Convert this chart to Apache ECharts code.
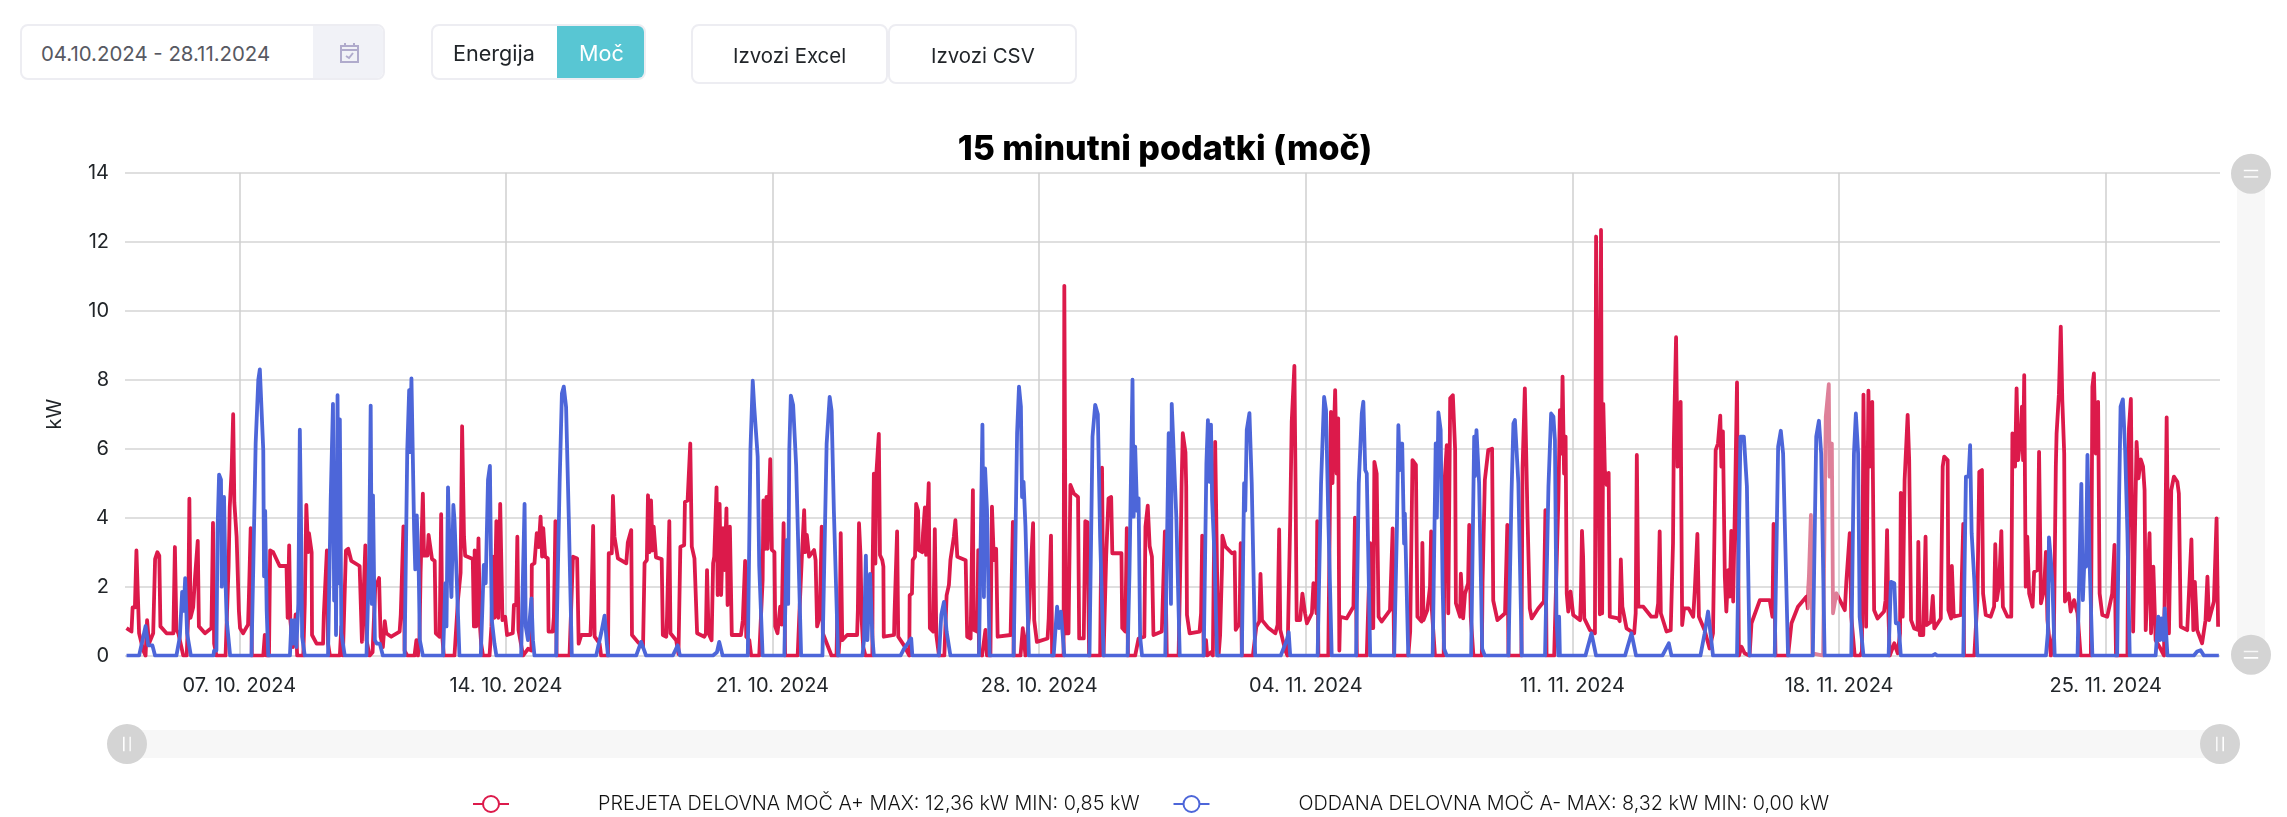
<!DOCTYPE html>
<html>
<head>
<meta charset="utf-8">
<title>15 minutni podatki (moč)</title>
<script src="https://cdn.jsdelivr.net/npm/echarts@6/dist/echarts.min.js"></script>
<style>
    body{margin:0;background:#fff;font-family:Inter,"Open Sans",sans-serif;}
    #graf{position:absolute;left:0;top:0;width:2287px;height:817px;}
    .box{position:absolute;box-sizing:border-box;border:2px solid #ededf2;border-radius:8px;background:#fff;}
    .txt{position:absolute;white-space:nowrap;font-size:20.4px;color:#212529;transform:translateY(-50%);}
</style>
</head>
<body>
<div id="graf"></div>

<div class="box" style="left:20px;top:24px;width:365px;height:56px;overflow:hidden;">
    <div style="position:absolute;right:0;top:0;width:70px;height:100%;background:#f1f2f7;"></div>
</div>
<div class="txt" style="left:41px;top:53px;color:#575962;">04.10.2024 - 28.11.2024</div>
<svg style="position:absolute;left:340px;top:43px;" width="19" height="20" viewBox="0 0 19 20" fill="none" stroke="#b0abcc" stroke-width="2">
    <rect x="1" y="3" width="17" height="16"></rect>
    <path d="M1 7H18M5 0V4M14 0V4M6 13L9 15L13 10"></path>
</svg>

<div class="box" style="left:431px;top:24px;width:215px;height:56px;overflow:hidden;">
    <div style="position:absolute;left:124px;top:-2px;width:91px;height:56px;background:#58c6d3;"></div>
</div>
<div class="txt" style="left:453px;top:53px;font-size:21.6px;">Energija</div>
<div class="txt" style="left:579px;top:53px;color:#fff;font-size:21.6px;">Moč</div>

<div class="box" style="left:691px;top:24px;width:197px;height:60px;"></div>
<div class="box" style="left:888px;top:24px;width:189px;height:60px;"></div>
<div class="txt" style="left:733px;top:55px;">Izvozi Excel</div>
<div class="txt" style="left:931px;top:55px;">Izvozi CSV</div>

<script>
// x = dnevi od 04.10.2024 00:00, y = kW
var prejeta = [
[.04,.8],[.17,.7],[.2,1.4],[.26,1.4],[.3,3.05],[.33,3.05],[.37,.65],[.48,.15],[.54,0],[.58,1.03],[.63,.35],[.74,.65],[.79,2.8],[.85,3],[.9,2.9],[.93,.85],[1.09,.65],[1.27,.65],[1.31,3.15],[1.35,.75],[1.4,.65],[1.53,0],[1.62,0],[1.66,1.2],[1.69,4.55],[1.72,1.1],[1.79,1.4],[1.84,2.3],[1.88,2.3],[1.91,3.33],[1.94,.85],[2.1,.65],[2.27,.8],[2.31,3.85],[2.34,.35],[2.4,0],[2.64,0],[2.72,2.6],[2.75,4.3],[2.8,5.4],[2.84,7],[2.87,4.45],[2.9,4.45],[2.93,3.45],[2.99,1.3],[3.02,.8],[3.1,.65],[3.23,.9],[3.25,1.6],[3.3,3.7],[3.33,0],[3.63,0],[3.67,.6],[3.71,0],[3.78,0],[3.81,3.05],[3.89,3],[4.06,2.6],[4.24,2.6],[4.27,1.1],[4.31,3.2],[4.34,1.03],[4.41,.25],[4.48,1.2],[4.52,0],[4.68,0],[4.72,1.5],[4.76,4.37],[4.81,3],[4.83,3.55],[4.9,3],[4.91,.6],[5.03,.35],[5.2,.35],[5.22,1.2],[5.3,3.05],[5.33,.35],[5.38,0],[5.64,0],[5.68,.85],[5.72,0],[5.77,0],[5.8,3.05],[5.86,3.1],[5.94,2.75],[6.16,2.6],[6.19,1.5],[6.22,.4],[6.26,.4],[6.31,3.2],[6.34,.45],[6.42,0],[6.5,.1],[6.57,2],[6.62,2.1],[6.67,2.25],[6.71,.55],[6.77,.25],[6.82,1],[6.86,.65],[6.99,.55],[7.21,.7],[7.24,1.2],[7.27,1.2],[7.31,3.75],[7.34,.15],[7.41,0],[7.6,0],[7.65,.45],[7.69,0],[7.73,.45],[7.76,2.4],[7.82,4.7],[7.85,2.9],[7.94,2.9],[7.97,3.5],[8.02,3.47],[8.06,2.8],[8.13,2.75],[8.16,.65],[8.26,.55],[8.3,4.1],[8.33,.55],[8.37,0],[8.65,0],[8.74,1.6],[8.81,2.4],[8.85,6.65],[8.9,3.45],[8.93,2.9],[9.13,2.8],[9.16,.85],[9.18,3.05],[9.22,.85],[9.28,3.4],[9.32,.85],[9.35,.35],[9.4,0],[9.57,0],[9.62,.85],[9.66,2.87],[9.7,1.1],[9.75,3.9],[9.8,1.1],[9.85,4.4],[9.91,1.03],[9.98,1.13],[10.03,.6],[10.18,.65],[10.21,1.47],[10.27,1.47],[10.3,3.45],[10.33,.75],[10.45,0],[10.58,.2],[10.67,.15],[10.68,2.63],[10.75,2.68],[10.81,3.55],[10.86,3.15],[10.91,4.03],[10.95,2.87],[10.98,3.7],[11.03,2.87],[11.1,2.82],[11.12,.7],[11.23,.7],[11.26,1.13],[11.3,3.9],[11.33,0],[11.67,0],[11.76,2.87],[11.8,2.92],[11.87,2.82],[11.91,.35],[11.98,.6],[12.22,.6],[12.24,1.23],[12.29,3.76],[12.33,.55],[12.46,.35],[12.5,0],[12.68,0],[12.7,2.97],[12.78,2.97],[12.81,4.63],[12.85,3.45],[12.94,2.82],[13.16,2.68],[13.2,3.28],[13.25,3.28],[13.29,3.64],[13.31,.6],[13.46,.4],[13.6,.25],[13.64,2.68],[13.7,2.77],[13.73,4.65],[13.77,3],[13.81,4.5],[13.85,3.05],[13.88,3.74],[13.94,2.85],[14.09,2.8],[14.12,.6],[14.21,.55],[14.23,1.13],[14.29,3.9],[14.32,.65],[14.47,.45],[14.53,.05],[14.57,0],[14.58,3.16],[14.68,3.2],[14.7,4.46],[14.77,4.5],[14.84,6.15],[14.88,3.16],[14.95,2.82],[14.99,2.82],[15.02,.65],[15.21,.55],[15.25,.65],[15.28,2.48],[15.32,.65],[15.4,.45],[15.44,2.68],[15.47,2.87],[15.53,4.88],[15.56,1.76],[15.61,4.4],[15.65,1.76],[15.7,3.7],[15.74,2.48],[15.79,4.27],[15.82,1.47],[15.88,3.74],[15.93,.6],[16.17,.6],[16.22,1.03],[16.28,2.75],[16.31,.55],[16.39,.45],[16.44,0],[16.65,0],[16.74,2.2],[16.76,4.5],[16.81,3.1],[16.84,4.6],[16.87,3.1],[16.94,5.7],[16.98,3.07],[17.05,3],[17.07,.85],[17.13,.65],[17.2,1.42],[17.24,.9],[17.29,3.84],[17.33,0],[17.66,0],[17.7,1.1],[17.77,2.87],[17.83,4.22],[17.86,3],[17.9,3.5],[17.96,2.87],[18.09,3.06],[18.13,2.77],[18.17,.85],[18.24,1.13],[18.29,3.74],[18.32,.65],[18.55,0],[18.68,0],[18.7,1.23],[18.73,0],[18.76,.45],[18.79,3.55],[18.83,.45],[18.96,.6],[19.22,.6],[19.24,1.32],[19.27,3.84],[19.31,2.9],[19.34,1.03],[19.38,.25],[19.44,0],[19.62,0],[19.63,2.77],[19.66,5.28],[19.7,2.67],[19.72,5.18],[19.79,6.43],[19.82,2.92],[19.88,2.77],[19.91,2.58],[19.92,.55],[20.19,.6],[20.2,1.13],[20.25,1.13],[20.27,3.6],[20.3,.55],[20.45,.3],[20.59,0],[20.6,1.75],[20.66,1.8],[20.68,2.77],[20.74,2.87],[20.77,4.4],[20.82,4.2],[20.84,3.06],[20.93,3],[20.95,3.55],[21,4.3],[21.03,2.92],[21.1,5],[21.13,.8],[21.22,.7],[21.26,3.67],[21.3,.6],[21.37,0],[21.51,0],[21.57,1.75],[21.63,2.05],[21.67,2.77],[21.76,3.45],[21.8,3.93],[21.85,2.87],[22.07,2.77],[22.11,.55],[22.2,.5],[22.26,4.8],[22.28,.75],[22.37,.7],[22.4,3.06],[22.42,.07],[22.5,0],[22.59,.75],[22.63,0],[22.72,0],[22.76,4.32],[22.81,2.77],[22.87,3.1],[22.91,.55],[23.25,.6],[23.31,3.88],[23.33,0],[23.51,0],[23.57,.8],[23.64,0],[23.73,1.08],[23.77,2.29],[23.84,3.84],[23.87,1.03],[23.94,.4],[24.22,.5],[24.25,1.08],[24.31,3.48],[24.34,0],[24.64,0],[24.66,10.72],[24.7,.65],[24.77,.65],[24.82,4.95],[24.91,4.7],[25.02,4.6],[25.05,.5],[25.17,.5],[25.21,3.9],[25.27,3.87],[25.31,0],[25.6,0],[25.65,5.45],[25.69,0],[25.76,2.92],[25.82,4.56],[25.89,4.6],[25.92,2.97],[26.16,2.97],[26.18,.8],[26.26,.7],[26.3,3.7],[26.33,0],[26.52,0],[26.61,.5],[26.76,.55],[26.79,3.74],[26.85,4.35],[26.9,3.18],[26.96,2.87],[27,.6],[27.22,.7],[27.3,3.6],[27.35,0],[27.66,0],[27.72,3.5],[27.74,5],[27.77,6.45],[27.81,6.5],[27.84,5.9],[27.86,4.9],[27.88,1.18],[27.95,.65],[28.21,.7],[28.25,1.23],[28.28,3.48],[28.32,0],[28.38,.45],[28.41,0],[28.51,.1],[28.56,0],[28.62,6.2],[28.67,2.43],[28.71,0],[28.75,.6],[28.8,2.58],[28.81,3.48],[28.89,3.16],[29.06,2.97],[29.13,3],[29.16,.75],[29.26,.94],[29.29,3.26],[29.32,0],[29.61,0],[29.7,.84],[29.78,.99],[29.81,2.37],[29.85,1.03],[30.02,.8],[30.2,.65],[30.26,.9],[30.3,3.66],[30.33,.75],[30.46,.16],[30.52,0],[30.59,3.93],[30.63,6.78],[30.66,6.83],[30.7,8.4],[30.73,5.04],[30.76,1.03],[30.85,1.03],[30.91,1.8],[30.98,1.23],[31.03,.94],[31.16,1.23],[31.2,2.1],[31.28,1.23],[31.3,3.9],[31.33,0],[31.59,0],[31.66,7.07],[31.7,5],[31.77,7.7],[31.81,5.28],[31.85,6.88],[31.88,.15],[31.9,1.13],[32.07,1.08],[32.25,1.42],[32.29,4],[32.34,0],[32.6,0],[32.69,3.26],[32.71,.8],[32.77,.8],[32.8,5.62],[32.86,5.28],[32.91,1.13],[32.99,.99],[33.21,1.32],[33.28,3.69],[33.32,0],[33.69,0],[33.74,.7],[33.8,5.67],[33.89,5.53],[33.93,1.13],[34.04,.99],[34.06,3.27],[34.09,1.03],[34.19,1.32],[34.26,2],[34.29,3.6],[34.31,1.32],[34.39,0],[34.62,0],[34.65,5.19],[34.7,6.1],[34.74,1.23],[34.79,7.46],[34.86,7.55],[34.92,5.96],[34.94,1.52],[35.05,1.13],[35.07,2.38],[35.13,1.08],[35.18,1.8],[35.26,2.1],[35.29,3.79],[35.33,1.13],[35.4,0],[35.62,0],[35.64,2.1],[35.7,5.09],[35.79,5.96],[35.89,6],[35.92,1.6],[36.03,1.03],[36.23,1.23],[36.29,3.79],[36.32,0],[36.66,0],[36.69,5.43],
[36.71,5.48],[36.75,7.75],[36.8,7.75],[36.82,4.03],[36.86,3.98],[36.88,1.37],[36.93,1.08],[37.1,1.37],[37.25,1.57],[37.29,4.22],[37.32,0],[37.52,0],[37.63,4.5],[37.67,7.12],[37.71,5.86],[37.74,8.09],[37.78,5.28],[37.82,6.35],[37.85,1.8],[37.89,1.28],[37.95,1.86],[38.02,1.18],[38.2,1.03],[38.22,1.61],[38.25,3.62],[38.28,2.86],[38.31,1.08],[38.46,.74],[38.59,.65],[38.62,12.15],[38.65,12.15],[38.68,5.86],[38.72,1.2],[38.75,12.34],[38.78,1.23],[38.81,7.3],[38.85,5.38],[38.9,4.95],[38.95,5.3],[38.98,1.13],[39.2,1.08],[39.24,1],[39.27,2.79],[39.31,1.42],[39.42,.79],[39.62,.65],[39.66,1.23],[39.69,5.82],[39.73,1.42],[39.86,1.42],[40.07,1.13],[40.2,1.13],[40.25,1.52],[40.29,3.6],[40.32,1.23],[40.47,.7],[40.58,.74],[40.64,3.26],[40.66,6.1],[40.69,6.06],[40.72,9.23],[40.76,5.48],[40.84,7.36],[40.88,.89],[40.93,1.37],[41.05,1.37],[41.17,1.13],[41.21,1.86],[41.28,3.53],[41.32,1.13],[41.47,.74],[41.6,.21],[41.69,.65],[41.76,5.96],[41.82,6.15],[41.88,6.96],[41.91,5.48],[41.95,6.5],[42,2.29],[42.04,1.28],[42.09,2.48],[42.13,1.71],[42.17,3.62],[42.22,1.57],[42.28,5.28],[42.32,7.92],[42.37,0],[42.44,.26],[42.52,.07],[42.65,0],[42.7,.94],[42.92,1.61],[43.18,1.61],[43.25,1.13],[43.28,3.82],[43.33,0],[43.66,0],[43.75,.94],[43.92,1.42],[44.14,1.71],[44.18,1.37],[44.26,4.08],[44.3,.07],[44.58,0],[44.65,6.93],[44.73,7.87],[44.75,5.19],[44.81,6.15],[44.84,1.23],[44.93,1.81],[45.02,1.61],[45.15,1.32],[45.19,2.14],[45.28,3.55],[45.32,1.13],[45.41,0],[45.55,0],[45.6,.12],[45.64,7.57],[45.71,.84],[45.77,7.68],[45.8,5.48],[45.87,7.36],
[45.88,7.36],[45.92,1.32],[46.01,1.08],[46.18,1.28],[46.22,1.61],[46.26,3.64],[46.29,1.42],[46.33,0],[46.45,.36],[46.54,.07],[46.6,.65],[46.62,4.72],[46.67,1.13],[46.72,5.09],[46.8,6.98],[46.84,5.67],[46.89,1.03],[46.97,.79],[47.06,.75],[47.08,3.3],[47.12,.6],[47.21,.6],[47.27,3.45],[47.3,.89],[47.41,.98],[47.46,1.73],[47.5,.79],[47.67,1.08],[47.72,5.48],[47.76,5.77],[47.85,5.67],[47.87,1.32],[47.94,1.08],[47.96,2.6],[48.01,1.13],[48.2,1.18],[48.22,2.19],[48.26,3.82],[48.28,0],[48.55,0],[48.63,1.6],[48.68,5.33],[48.75,5.38],[48.78,1.8],[48.85,1.18],[48.98,1.13],[49.07,1.42],[49.1,3.23],[49.14,1.61],[49.2,2.05],[49.26,3.61],[49.3,1.42],[49.42,1.13],[49.52,1.13],[49.55,6.44],[49.62,5.48],[49.66,7.75],[49.7,5.67],[49.77,6.44],[49.8,7.22],[49.83,5.67],[49.86,8.13],[49.9,2],[49.94,3.45],[49.99,1.8],[50.08,1.42],[50.12,2.43],[50.21,2.48],[50.25,5.91],[50.3,1.52],[50.38,1.9],[50.43,3.01],[50.47,1.03],[50.56,0],[50.64,.65],[50.69,5.48],[50.71,6.44],[50.77,7.56],[50.82,9.54],[50.86,7.4],[50.91,5.86],[50.93,1.57],[51.03,1.8],[51.08,1.28],[51.17,1.61],[51.26,1.23],[51.34,0],[51.61,0],[51.65,7.8],[51.69,8.18],[51.74,5.86],[51.8,7.36],[51.84,1.8],[51.91,1.18],[52.04,1.13],[52.17,1.8],[52.23,3.21],[52.27,0],[52.57,0],[52.61,6.59],[52.66,7.44],[52.72,.7],[52.77,.7],[52.81,6.2],[52.86,5.14],[52.92,5.69],[52.98,5.48],[53.02,4.8],[53.05,.74],[53.15,3.55],[53.19,.65],[53.25,2.58],[53.31,.45],[53.41,.26],[53.53,0],[53.6,6.91],[53.66,.65],[53.72,4.8],[53.79,5.19],[53.88,5.04],[53.92,4.7],[53.97,.84],[54.14,.74],[54.25,3.37],[54.3,.74],[54.34,2.14],[54.4,.74],[54.53,.36],[54.62,1.03],[54.67,2.29],[54.71,1.03],[54.84,1.57],[54.88,1.57],[54.91,3.98],[54.95,.84]
];
var oddana = [
[.04,0],[.37,0],[.48,.55],[.54,.86],[.61,.3],[.72,.3],[.79,0],[1.35,0],[1.44,.55],[1.5,1.85],[1.54,1.3],[1.58,2.25],[1.63,.65],[1.73,0],[2.32,0],[2.34,.15],[2.4,.15],[2.43,3.65],[2.47,5.25],[2.52,5.1],[2.54,2],[2.6,4.6],[2.64,2.1],[2.67,1.03],[2.72,1.03],[2.76,0],[3.32,0],[3.37,2.7],[3.43,6.15],[3.5,8],[3.54,8.3],[3.58,8.33],[3.63,5.95],[3.65,2.3],[3.68,4.2],[3.72,1.3],[3.76,0],[4.33,0],[4.37,1.03],[4.41,.35],[4.45,1.03],[4.5,.25],[4.55,1.5],[4.59,6.55],[4.62,4],[4.65,.55],[4.72,0],[5.33,0],[5.4,4.5],[5.46,7.3],[5.49,1.6],[5.52,4.6],[5.54,.6],[5.58,7.55],[5.61,2.1],[5.64,6.85],[5.68,.65],[5.77,0],[6.34,0],[6.41,2.95],[6.45,7.25],[6.48,1.5],[6.51,4.65],[6.56,.45],[6.61,.35],[6.69,.35],[6.77,0],[7.34,0],[7.41,5.95],[7.46,7.7],[7.48,5.9],[7.52,8.04],[7.56,8.04],[7.59,3.65],[7.62,2.5],[7.66,4.07],[7.71,2.5],[7.74,.45],[7.82,0],[8.35,0],[8.41,2.1],[8.44,.85],[8.48,4.88],[8.52,3.05],[8.57,1.7],[8.62,4.37],[8.65,3.93],[8.71,2.2],[8.78,0],
[9.34,0],[9.42,2.63],[9.47,2.1],[9.53,5.1],[9.58,5.5],[9.61,2.6],[9.63,1.03],[9.7,.35],[9.75,0],[10.4,0],[10.49,4.4],[10.52,.85],[10.58,.45],[10.67,1.66],[10.71,.45],[10.75,0],[11.32,0],[11.41,5],[11.47,7.6],[11.52,7.8],[11.58,7.2],[11.65,4.03],[11.73,0],[12.37,0],[12.5,.65],[12.59,1.16],[12.65,.35],[12.68,0],[13.42,0],[13.55,.4],[13.68,0],[14.38,0],[14.51,.3],[14.57,0],[15.43,0],[15.54,.1],[15.6,.4],[15.69,0],[16.35,0],[16.42,5.96],[16.48,7.97],[16.52,7.2],[16.57,7.15],[16.61,5.77],[16.65,2.6],[16.74,0],[17.31,0],[17.37,3.35],[17.41,1.5],[17.44,5.96],[17.48,7.54],[17.54,7.27],[17.62,5.5],[17.75,0],
[18.31,0],[18.42,6.15],[18.5,7.5],[18.55,7.1],[18.61,4.2],[18.72,0],[19.36,0],[19.4,.45],[19.45,2.9],[19.49,.45],[19.56,2.37],[19.62,.55],[19.66,0],[20.36,0],[20.45,.2],[20.64,.5],[20.67,0],[21.37,0],[21.43,1.18],[21.5,1.56],[21.57,.7],[21.67,0],[22.42,0],[22.46,2.97],[22.51,6.7],[22.55,1.7],[22.58,5.43],[22.63,4.22],[22.7,0],[23.33,0],[23.42,6.45],[23.47,7.8],[23.52,7.22],[23.55,4.6],[23.59,5.04],[23.64,3.74],[23.73,0],[24.38,0],[24.47,1.42],[24.52,.8],[24.57,1.28],[24.66,0],[25.32,0],[25.4,6.35],[25.47,7.27],[25.54,7],[25.6,3.45],[25.69,0],[26.32,0],[26.37,2.39],[26.45,8],[26.48,4.03],[26.52,6.06],[26.57,4.2],[26.61,4.56],[26.65,.55],[26.7,0],[27.31,0],[27.4,6.45],[27.46,1.5],[27.48,7.3],[27.53,7.3],[27.6,4.03],[27.69,0],
[28.32,0],[28.39,5.57],[28.43,6.83],[28.47,5.04],[28.51,6.7],[28.54,4.5],[28.6,2.97],[28.67,0],[29.32,0],[29.38,5],[29.41,4.2],[29.45,6.55],[29.52,7.03],[29.58,5],[29.67,0],[30.34,0],[30.5,.45],[30.55,.68],[30.59,0],[31.31,0],[31.4,5],[31.48,7.5],[31.53,7.12],[31.59,4.03],[31.68,0],[32.32,0],[32.39,5],[32.47,7.03],[32.51,7.36],[32.56,5.38],[32.6,5.28],[32.69,0],[33.32,0],[33.39,3.64],[33.43,6.68],[33.47,5.38],[33.53,6.15],[33.58,3.25],[33.6,4.12],[33.69,0],[34.33,0],[34.41,6.15],[34.44,4],[34.48,7.05],[34.54,6.54],[34.59,2.1],[34.63,.2],[34.7,0],[35.34,0],[35.42,6.35],[35.44,5.2],[35.48,6.54],[35.55,5],[35.63,.2],[35.7,0],[36.32,0],[36.4,4.7],[36.45,6.73],[36.49,6.83],[36.58,5],[36.67,0],
[37.28,0],[37.37,4.9],[37.44,7.02],[37.5,6.93],[37.54,6.25],[37.58,1.13],[37.63,0],[37.65,1.13],[37.67,0],[38.34,0],[38.5,.65],[38.62,0],[39.38,0],[39.55,.65],[39.67,0],[40.36,0],[40.53,.36],[40.6,0],[41.36,0],[41.47,.65],[41.56,1.28],[41.69,0],[42.32,0],[42.41,6.35],[42.5,6.35],[42.58,4.9],[42.65,0],[43.31,0],[43.4,6.06],[43.47,6.52],[43.53,5.86],[43.66,0],[44.31,0],[44.4,6.35],[44.47,6.81],[44.53,5.86],[44.62,0],[45.32,0],[45.39,5.86],[45.44,7.02],[45.5,5.86],[45.54,1.13],[45.64,0],
[46.3,0],[46.36,2.14],[46.45,2.1],[46.49,.94],[46.56,.94],[46.62,0],[47.45,0],[47.52,.05],[47.58,0],[48.26,0],[48.33,5.19],[48.4,5.19],[48.44,6.1],[48.48,3.55],[48.55,2.19],[48.63,0],[50.43,0],[50.48,.65],[50.51,3.43],[50.56,2.77],[50.6,2.1],[50.66,0],[51.26,0],[51.31,2.58],[51.36,4.98],[51.4,1.61],[51.44,2.77],[51.48,2.58],[51.52,5.82],[51.58,2.58],[51.65,0],[52.3,0],[52.35,4.51],[52.39,7.22],[52.45,7.43],[52.51,5.96],[52.57,3.55],[52.63,0],[53.31,0],[53.38,1.13],[53.42,.45],[53.46,1.08],[53.51,.45],[53.55,1.37],[53.62,0],[54.31,0],[54.4,.12],[54.49,.16],[54.58,0],[54.97,0]
];
var bledoDni = [44.16, 45.0];
var tedniDni = [3, 10, 17, 24, 31, 38, 45, 52];
var tedniOznake = ['07. 10. 2024','14. 10. 2024','21. 10. 2024','28. 10. 2024','04. 11. 2024','11. 11. 2024','18. 11. 2024','25. 11. 2024'];
var imeA = 'PREJETA DELOVNA MOČ A+ MAX: 12,36 kW MIN: 0,85 kW';
var imeB = 'ODDANA DELOVNA MOČ A- MAX: 8,32 kW MIN: 0,00 kW';

var rocaj = 'path://M50,0A50,50,0,1,1,50,100A50,50,0,1,1,50,0Z M44,32H40V68H44Z M60,32H56V68H60Z';
var pisava = 'Inter';

var graf = echarts.init(document.getElementById('graf'));
var grafOption = {
    animation: false,
    textStyle: {fontFamily: pisava},
    title: {
        text: '15 minutni podatki (moč)',
        left: 1160,
        textAlign: 'center',
        top: 128,
        textStyle: {fontFamily: pisava, fontSize: 34, fontWeight: 800, color: '#000'}
    },
    grid: {left: 125, right: 67, top: 172.7, bottom: 161.3},
    legend: {
        left: 467,
        top: 789,
        itemWidth: 36,
        itemHeight: 20,
        itemGap: 33,
        selectedMode: false,
        textStyle: {fontFamily: pisava, fontSize: 19.8, fontWeight: 300, color: '#111', padding: [0, 0, 0, 84]},
        data: [imeA, imeB]
    },
    xAxis: {
        type: 'value',
        min: 0,
        max: 55,
        axisLine: {show: false},
        axisTick: {show: false, customValues: tedniDni},
        axisLabel: {
            customValues: tedniDni,
            fontSize: 20,
            color: '#212529',
            margin: 20,
            hideOverlap: false,
            formatter: function(v){
                return tedniOznake[tedniDni.indexOf(+v)];
            }
        },
        splitLine: {show: true, lineStyle: {color: '#cfcfcf', width: 1.5}}
    },
    yAxis: {
        type: 'value',
        min: 0,
        max: 14,
        interval: 2,
        name: 'kW',
        nameLocation: 'middle',
        nameRotate: 90,
        nameGap: 60,
        nameTextStyle: {fontSize: 20, color: '#212529'},
        axisLine: {show: false},
        axisTick: {show: false},
        axisLabel: {fontSize: 20, color: '#212529', margin: 16},
        splitLine: {lineStyle: {color: '#d4d4d4', width: 1.5}}
    },
    dataZoom: [
        {
            type: 'slider', xAxisIndex: 0, filterMode: 'none', start: 0, end: 100,
            left: 125, right: 67, top: 730, height: 28,
            backgroundColor: '#f7f7f7', borderColor: 'transparent', fillerColor: 'rgba(0,0,0,0)',
            showDetail: false, showDataShadow: false, brushSelect: false, moveHandleSize: 0,
            handleIcon: rocaj, handleSize: 40, handleStyle: {color: '#d4d4d4', borderColor: 'transparent', borderWidth: 0}
        },
        {
            type: 'slider', yAxisIndex: 0, filterMode: 'none', start: 0, end: 100,
            left: 2237, width: 28, top: 172.7, bottom: 161.3,
            backgroundColor: '#f7f7f7', borderColor: 'transparent', fillerColor: 'rgba(0,0,0,0)',
            showDetail: false, showDataShadow: false, brushSelect: false, moveHandleSize: 0,
            handleIcon: rocaj, handleSize: 40, handleStyle: {color: '#d4d4d4', borderColor: 'transparent', borderWidth: 0}
        }
    ],
    visualMap: {
        show: false,
        seriesIndex: 0,
        dimension: 0,
        pieces: [
            {lt: bledoDni[0], color: '#dc1a4b'},
            {gte: bledoDni[0], lte: bledoDni[1], color: '#de8099'},
            {gt: bledoDni[1], color: '#dc1a4b'}
        ]
    },
    series: [
        {
            name: imeA,
            type: 'line',
            data: prejeta,
            symbol: 'emptyCircle',
            symbolSize: 14,
            showSymbol: false,
            sampling: false,
            itemStyle: {color: '#dc1a4b'},
            lineStyle: {width: 3.8, join: 'round'},
            z: 2
        },
        {
            name: imeB,
            type: 'line',
            data: oddana,
            symbol: 'emptyCircle',
            symbolSize: 14,
            showSymbol: false,
            sampling: false,
            itemStyle: {color: '#4d66d9'},
            lineStyle: {width: 3.8, color: '#4d66d9', join: 'round'},
            z: 3
        }
    ]
};
graf.setOption(grafOption);
</script>
</body>
</html>
